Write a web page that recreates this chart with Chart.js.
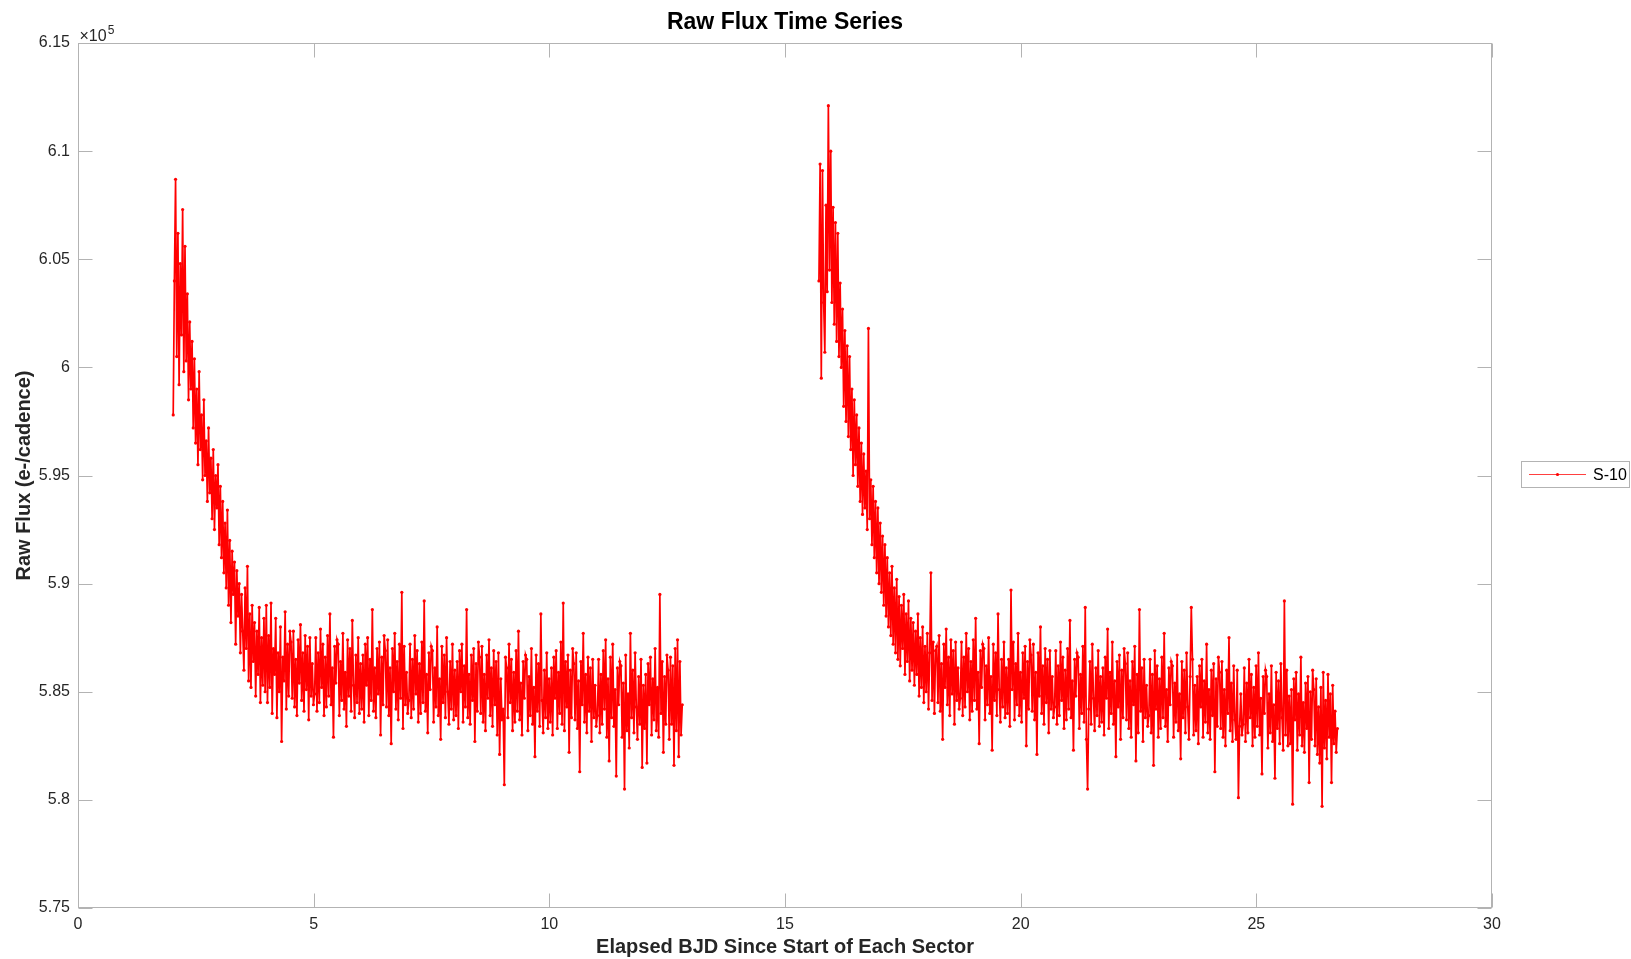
<!DOCTYPE html>
<html>
<head>
<meta charset="utf-8">
<title>Raw Flux Time Series</title>
<script src="https://cdn.jsdelivr.net/npm/chart.js@4/dist/chart.umd.min.js"></script>
<style>
  html, body { margin: 0; padding: 0; background: #fff; }
  #wrap { width: 1631px; height: 959px; position: relative; }
</style>
</head>
<body>
<div id="wrap"><canvas id="fluxChart"></canvas></div>
<script>
// raw flux, in units of 10^5 e-/cadence, one value per cadence step (20 per half day)
const cadence = 0.025
const sector1Start = 2.02
const sector1Flux = [
  5.978, 6.040, 6.087, 6.005, 6.062, 5.992, 6.048, 6.015, 6.073, 5.998, 6.056, 6.003, 6.034, 5.985, 6.021, 5.990, 6.012, 5.972, 6.004, 5.965,
  5.990, 5.955, 5.998, 5.962, 5.978, 5.948, 5.985, 5.950, 5.966, 5.938, 5.972, 5.942, 5.958, 5.930, 5.962, 5.925, 5.950, 5.935, 5.955, 5.918,
  5.945, 5.912, 5.938, 5.905, 5.928, 5.898, 5.934, 5.890, 5.920, 5.882, 5.915, 5.895, 5.910, 5.872, 5.906, 5.885, 5.900, 5.868, 5.895, 5.878,
  5.860, 5.898, 5.870, 5.908, 5.855, 5.886, 5.852, 5.890, 5.864, 5.882, 5.848, 5.878, 5.858, 5.889, 5.845, 5.875, 5.853, 5.884, 5.850, 5.890,
  5.845, 5.876, 5.852, 5.891, 5.840, 5.870, 5.858, 5.884, 5.838, 5.868, 5.850, 5.880, 5.827, 5.866, 5.855, 5.887, 5.842, 5.872, 5.848, 5.878,
  5.873, 5.847, 5.878, 5.843, 5.865, 5.839, 5.874, 5.854, 5.881, 5.846, 5.868, 5.841, 5.876, 5.851, 5.871, 5.837, 5.875, 5.848, 5.863, 5.844,
  5.849, 5.875, 5.841, 5.868, 5.845, 5.879, 5.852, 5.872, 5.839, 5.866, 5.843, 5.876, 5.848, 5.886, 5.844, 5.861, 5.829, 5.871, 5.854, 5.874,
  5.872, 5.839, 5.864, 5.846, 5.877, 5.842, 5.859, 5.834, 5.874, 5.848, 5.870, 5.841, 5.883, 5.853, 5.838, 5.867, 5.845, 5.875, 5.840, 5.863,
  5.842, 5.867, 5.836, 5.872, 5.853, 5.875, 5.839, 5.865, 5.846, 5.888, 5.841, 5.861, 5.838, 5.870, 5.849, 5.873, 5.830, 5.866, 5.844, 5.876,
  5.869, 5.843, 5.874, 5.839, 5.861, 5.826, 5.870, 5.850, 5.877, 5.842, 5.864, 5.837, 5.872, 5.847, 5.896, 5.833, 5.871, 5.844, 5.859, 5.840,
  5.846, 5.872, 5.838, 5.865, 5.842, 5.876, 5.849, 5.869, 5.836, 5.863, 5.840, 5.873, 5.845, 5.892, 5.841, 5.858, 5.831, 5.868, 5.851, 5.871,
  5.869, 5.836, 5.861, 5.843, 5.880, 5.839, 5.856, 5.828, 5.871, 5.845, 5.867, 5.838, 5.875, 5.850, 5.835, 5.864, 5.842, 5.872, 5.837, 5.860,
  5.839, 5.864, 5.833, 5.869, 5.850, 5.872, 5.836, 5.862, 5.843, 5.888, 5.838, 5.858, 5.835, 5.867, 5.846, 5.870, 5.827, 5.863, 5.841, 5.873,
  5.866, 5.840, 5.871, 5.836, 5.858, 5.832, 5.867, 5.847, 5.874, 5.839, 5.861, 5.834, 5.869, 5.844, 5.864, 5.830, 5.868, 5.821, 5.856, 5.837,
  5.842, 5.807, 5.866, 5.861, 5.838, 5.872, 5.845, 5.865, 5.832, 5.859, 5.836, 5.869, 5.841, 5.878, 5.837, 5.854, 5.830, 5.864, 5.847, 5.867,
  5.865, 5.832, 5.857, 5.839, 5.870, 5.835, 5.852, 5.820, 5.867, 5.841, 5.863, 5.834, 5.886, 5.846, 5.831, 5.860, 5.838, 5.868, 5.833, 5.856,
  5.836, 5.861, 5.830, 5.866, 5.847, 5.869, 5.833, 5.859, 5.840, 5.873, 5.835, 5.891, 5.832, 5.864, 5.843, 5.867, 5.822, 5.860, 5.838, 5.870,
  5.863, 5.837, 5.868, 5.833, 5.855, 5.813, 5.864, 5.844, 5.877, 5.836, 5.858, 5.831, 5.866, 5.841, 5.861, 5.827, 5.865, 5.838, 5.853, 5.834,
  5.839, 5.865, 5.831, 5.858, 5.835, 5.869, 5.842, 5.874, 5.829, 5.856, 5.818, 5.866, 5.838, 5.872, 5.834, 5.851, 5.811, 5.861, 5.844, 5.864,
  5.862, 5.829, 5.854, 5.805, 5.867, 5.832, 5.849, 5.824, 5.877, 5.838, 5.860, 5.831, 5.868, 5.843, 5.828, 5.857, 5.835, 5.865, 5.815, 5.853,
  5.833, 5.858, 5.817, 5.863, 5.844, 5.866, 5.830, 5.856, 5.837, 5.870, 5.832, 5.852, 5.829, 5.895, 5.840, 5.864, 5.822, 5.857, 5.835, 5.867,
  5.860, 5.828, 5.866, 5.835, 5.862, 5.816, 5.870, 5.832, 5.874, 5.820, 5.864, 5.830, 5.844
]
const sector2Start = 15.72
const sector2Flux = [
  6.040, 6.094, 5.995, 6.091, 6.030, 6.007, 6.075, 6.035, 6.121, 6.045, 6.100, 6.030, 6.074, 6.020, 6.067, 6.012, 6.062, 6.005, 6.039, 6.000,
  6.027, 5.982, 6.017, 5.975, 6.010, 5.968, 6.005, 5.962, 5.990, 5.950, 5.985, 5.955, 5.978, 5.945, 5.972, 5.938, 5.965, 5.932, 5.960, 5.935,
  5.952, 5.925, 6.018, 5.930, 5.948, 5.918, 5.945, 5.912, 5.938, 5.905, 5.935, 5.900, 5.928, 5.896, 5.922, 5.890, 5.918, 5.885, 5.912, 5.880,
  5.905, 5.876, 5.908, 5.872, 5.898, 5.868, 5.902, 5.865, 5.894, 5.862, 5.890, 5.870, 5.895, 5.858, 5.886, 5.864, 5.892, 5.855, 5.884, 5.860,
  5.882, 5.853, 5.878, 5.858, 5.886, 5.848, 5.875, 5.852, 5.880, 5.845, 5.871, 5.850, 5.877, 5.842, 5.868, 5.905, 5.846, 5.873, 5.840, 5.869,
  5.871, 5.845, 5.876, 5.841, 5.863, 5.828, 5.872, 5.852, 5.879, 5.844, 5.866, 5.839, 5.874, 5.849, 5.869, 5.835, 5.873, 5.846, 5.861, 5.842,
  5.847, 5.873, 5.839, 5.866, 5.843, 5.877, 5.850, 5.870, 5.837, 5.864, 5.841, 5.874, 5.846, 5.884, 5.842, 5.859, 5.826, 5.869, 5.852, 5.872,
  5.870, 5.837, 5.862, 5.844, 5.875, 5.840, 5.857, 5.823, 5.872, 5.846, 5.868, 5.839, 5.886, 5.851, 5.836, 5.865, 5.843, 5.873, 5.838, 5.861,
  5.840, 5.865, 5.834, 5.897, 5.851, 5.873, 5.837, 5.863, 5.844, 5.877, 5.839, 5.859, 5.836, 5.868, 5.847, 5.871, 5.825, 5.864, 5.842, 5.874,
  5.867, 5.841, 5.872, 5.837, 5.859, 5.821, 5.868, 5.848, 5.880, 5.840, 5.862, 5.835, 5.870, 5.845, 5.865, 5.831, 5.869, 5.842, 5.857, 5.838,
  5.843, 5.869, 5.835, 5.862, 5.839, 5.873, 5.846, 5.866, 5.833, 5.860, 5.837, 5.870, 5.842, 5.883, 5.838, 5.855, 5.823, 5.865, 5.848, 5.868,
  5.866, 5.833, 5.858, 5.840, 5.871, 5.836, 5.889, 5.828, 5.805, 5.842, 5.864, 5.835, 5.872, 5.847, 5.832, 5.861, 5.839, 5.869, 5.834, 5.857,
  5.836, 5.861, 5.830, 5.866, 5.847, 5.879, 5.833, 5.859, 5.840, 5.873, 5.835, 5.855, 5.820, 5.864, 5.843, 5.867, 5.828, 5.860, 5.838, 5.870,
  5.863, 5.837, 5.868, 5.833, 5.855, 5.829, 5.864, 5.844, 5.871, 5.818, 5.858, 5.831, 5.888, 5.841, 5.861, 5.827, 5.865, 5.838, 5.853, 5.834,
  5.839, 5.865, 5.831, 5.858, 5.816, 5.869, 5.842, 5.862, 5.829, 5.856, 5.833, 5.866, 5.838, 5.877, 5.834, 5.851, 5.827, 5.861, 5.844, 5.864,
  5.862, 5.829, 5.854, 5.836, 5.867, 5.832, 5.849, 5.819, 5.864, 5.838, 5.860, 5.831, 5.868, 5.843, 5.828, 5.857, 5.889, 5.865, 5.830, 5.853,
  5.832, 5.857, 5.826, 5.862, 5.843, 5.865, 5.829, 5.855, 5.836, 5.872, 5.831, 5.851, 5.828, 5.860, 5.839, 5.863, 5.813, 5.856, 5.834, 5.866,
  5.859, 5.833, 5.864, 5.829, 5.851, 5.825, 5.860, 5.840, 5.875, 5.832, 5.854, 5.827, 5.862, 5.837, 5.828, 5.860, 5.801, 5.834, 5.849, 5.830,
  5.835, 5.861, 5.827, 5.854, 5.831, 5.865, 5.838, 5.858, 5.825, 5.852, 5.829, 5.862, 5.834, 5.868, 5.830, 5.847, 5.812, 5.857, 5.840, 5.860,
  5.857, 5.824, 5.849, 5.831, 5.862, 5.827, 5.844, 5.810, 5.859, 5.833, 5.855, 5.826, 5.863, 5.838, 5.823, 5.892, 5.830, 5.860, 5.825, 5.848,
  5.826, 5.851, 5.798, 5.856, 5.837, 5.859, 5.823, 5.849, 5.830, 5.866, 5.825, 5.845, 5.822, 5.854, 5.833, 5.857, 5.808, 5.850, 5.828, 5.860,
  5.851, 5.825, 5.856, 5.821, 5.843, 5.817, 5.852, 5.797, 5.859, 5.824, 5.846, 5.819, 5.858, 5.829, 5.849, 5.808, 5.853, 5.826, 5.841, 5.822,
  5.833
]
const xTicks = [0, 5, 10, 15, 20, 25, 30]
const yTicks = [5.75, 5.8, 5.85, 5.9, 5.95, 6, 6.05, 6.1, 6.15]
const seriesName = 'S-10'
const chartTitle = 'Raw Flux Time Series'

const FONT = "'Liberation Sans', Arial, Helvetica, sans-serif"
const TEXT = '#262626'
const AXIS = '#b3b3b3'
const RED = '#ff0000'

const toPoints = (start, flux) => flux.map((f, i) => ({ x: start + i * cadence, y: f }))
// null point breaks the line between the two sectors
const points = toPoints(sector1Start, sector1Flux)
  .concat([{ x: 14, y: null }])
  .concat(toPoints(sector2Start, sector2Flux))

// matlab-like box with inward ticks, title over the axes, exponent note and boxed legend
const axesBox = {
  id: 'axesBox',
  afterDraw(chart) {
    const { ctx, chartArea: a, scales } = chart
    const L = Math.round(a.left) + 0.5, R = Math.round(a.right) - 0.5
    const T = Math.round(a.top) + 0.5, B = Math.round(a.bottom) - 0.5
    ctx.save()
    ctx.strokeStyle = AXIS
    ctx.lineWidth = 1
    ctx.strokeRect(L, T, R - L, B - T)
    ctx.beginPath()
    xTicks.forEach(v => {
      const px = Math.round(scales.x.getPixelForValue(v)) + 0.5
      ctx.moveTo(px, B); ctx.lineTo(px, B - 14)
      ctx.moveTo(px, T); ctx.lineTo(px, T + 14)
    })
    yTicks.forEach(v => {
      const py = Math.round(scales.y.getPixelForValue(v)) + 0.5
      ctx.moveTo(L, py); ctx.lineTo(L + 14, py)
      ctx.moveTo(R, py); ctx.lineTo(R - 14, py)
    })
    ctx.stroke()

    // title
    ctx.fillStyle = '#000'
    ctx.textAlign = 'center'
    ctx.textBaseline = 'middle'
    ctx.font = 'bold 23px ' + FONT
    ctx.fillText(chartTitle, (a.left + a.right) / 2, 23)

    // x 10^5
    ctx.fillStyle = TEXT
    ctx.textBaseline = 'alphabetic'
    ctx.textAlign = 'left'
    ctx.font = '16px ' + FONT
    ctx.fillText('\u00d710', L + 1, T - 3)
    const w = ctx.measureText('\u00d710').width
    ctx.font = '12px ' + FONT
    ctx.fillText('5', L + 2 + w, T - 10)

    // legend
    const lx = 1521.5, ly = 461.5, lw = 108, lh = 26
    ctx.fillStyle = '#fff'
    ctx.fillRect(lx, ly, lw, lh)
    ctx.strokeStyle = AXIS
    ctx.strokeRect(lx, ly, lw, lh)
    const my = ly + lh / 2
    ctx.strokeStyle = 'rgba(255,0,0,0.75)'
    ctx.beginPath(); ctx.moveTo(1529, my); ctx.lineTo(1586, my); ctx.stroke()
    ctx.fillStyle = RED
    ctx.beginPath(); ctx.arc(1557.5, my, 1.6, 0, Math.PI * 2); ctx.fill()
    ctx.fillStyle = '#000'
    ctx.font = '16px ' + FONT
    ctx.textBaseline = 'middle'
    ctx.fillText(seriesName, 1593, my + 1)
    ctx.restore()
  }
}

new Chart(document.getElementById('fluxChart'), {
  type: 'line',
  data: {
    datasets: [{
      label: seriesName,
      data: points,
      borderColor: RED,
      borderWidth: 1.7,
      backgroundColor: RED,
      pointRadius: 1.6,
      pointBorderWidth: 0,
      pointBackgroundColor: RED,
      spanGaps: false,
      tension: 0
    }]
  },
  options: {
    responsive: true,
    maintainAspectRatio: false,
    animation: false,
    events: [],
    layout: { padding: { left: 0, right: 139, top: 43, bottom: 0 } },
    plugins: {
      legend: { display: false },
      tooltip: { enabled: false },
      title: { display: false }
    },
    scales: {
      x: {
        type: 'linear',
        min: 0,
        max: 30,
        afterFit: s => { s.height = 51 },
        afterBuildTicks: s => { s.ticks = xTicks.map(v => ({ value: v })) },
        grid: { display: false, drawTicks: false },
        border: { display: false },
        ticks: { color: TEXT, font: { family: FONT, size: 16 }, padding: 7, maxRotation: 0 },
        title: {
          display: true,
          text: 'Elapsed BJD Since Start of Each Sector',
          color: TEXT,
          font: { family: FONT, size: 20, weight: 'bold' },
          padding: { top: 0, bottom: 0 }
        }
      },
      y: {
        type: 'linear',
        min: 5.75,
        max: 6.15,
        afterFit: s => { s.width = 78 },
        afterBuildTicks: s => { s.ticks = yTicks.map(v => ({ value: v })) },
        grid: { display: false, drawTicks: false },
        border: { display: false },
        ticks: {
          color: TEXT,
          font: { family: FONT, size: 16 },
          padding: 8,
          callback: v => String(+v.toFixed(2))
        },
        title: {
          display: true,
          text: 'Raw Flux (e-/cadence)',
          color: TEXT,
          font: { family: FONT, size: 20, weight: 'bold' },
          padding: { top: 12, bottom: 0 }
        }
      }
    }
  },
  plugins: [axesBox]
})
</script>
</body>
</html>
